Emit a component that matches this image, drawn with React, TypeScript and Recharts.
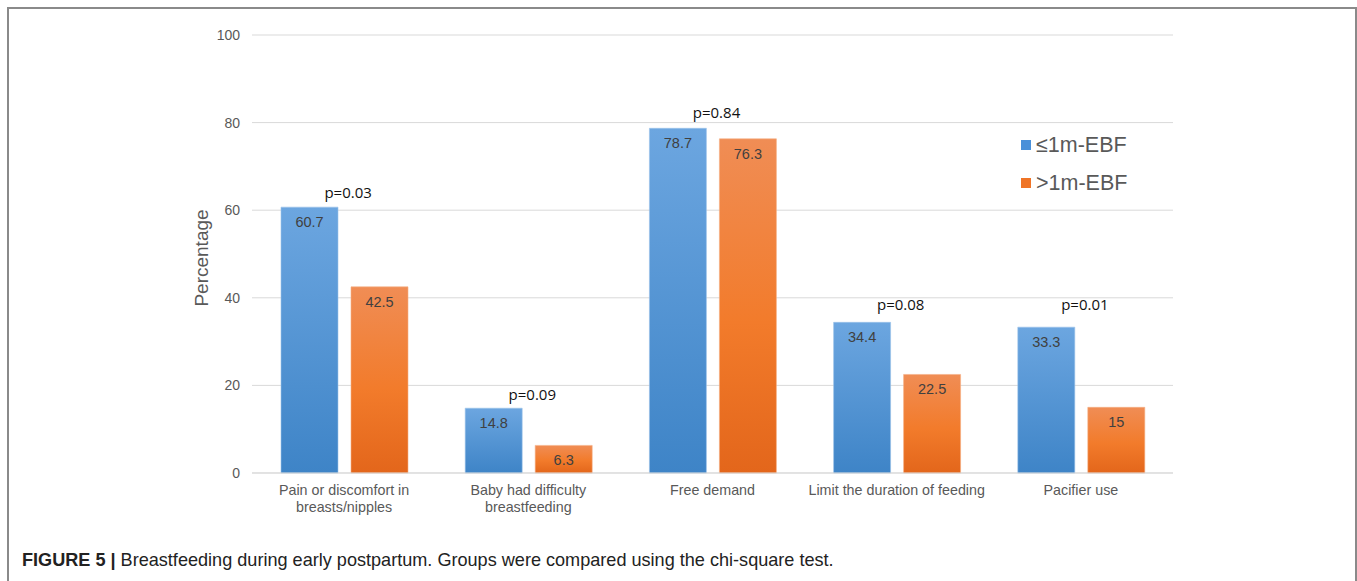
import React from 'react';
import {
  ComposedChart,
  Bar,
  Line,
  XAxis,
  YAxis,
  CartesianGrid,
  LabelList,
} from 'recharts';

// categories (line breaks as in the figure)
const categories = [
  'Pain or discomfort in\nbreasts/nipples',
  'Baby had difficulty\nbreastfeeding',
  'Free demand',
  'Limit the duration of feeding',
  'Pacifier use',
];

const earlyEBF = [60.7, 14.8, 78.7, 34.4, 33.3]; // ≤1m-EBF
const lateEBF = [42.5, 6.3, 76.3, 22.5, 15]; // >1m-EBF
const pValues = ['p=0.03', 'p=0.09', 'p=0.84', 'p=0.08', 'p=0.01'];
// height (in %) at which each p-value label sits
const pHeights = [63.9, 17.8, 82.2, 38.4, 38.4];
const yTicks = [0, 20, 40, 60, 80, 100];

const data = categories.map((name, i) => ({
  name,
  early: earlyEBF[i],
  late: lateEBF[i],
  pPos: pHeights[i],
  p: pValues[i],
}));

const FONT = '"Liberation Sans", Arial, sans-serif';
const GREY = '#595959';

const CategoryTick = (props: any) => {
  const { x, y, payload } = props;
  const lines = String(payload.value).split('\n');
  return (
    <text x={x} y={y} textAnchor="middle" fill={GREY} fontSize={14.3} fontFamily={FONT}>
      {lines.map((ln, i) => (
        <tspan key={i} x={x} dy={i === 0 ? 14 : 17}>
          {ln}
        </tspan>
      ))}
    </text>
  );
};

const PLabel = (props: any) => {
  const { x, y, value } = props;
  return (
    <text x={x + 4} y={y} dy={5} textAnchor="middle" fill="#111" fontSize={15} fontFamily={'"Open Sans", sans-serif'}>
      {value}
    </text>
  );
};

const ValueLabel = (props: any) => {
  const { x, y, width, value } = props;
  return (
    <text x={x + width / 2} y={y + 20} textAnchor="middle" fill="#404040" fontSize={14.5} fontFamily={FONT}>
      {value}
    </text>
  );
};

const legendItems = [
  { label: '≤1m-EBF', color: '#4a90d9' },
  { label: '>1m-EBF', color: '#ef7426' },
];

const LegendBox = () => (
  <div style={{ position: 'absolute', left: 1021, top: 126, fontFamily: FONT }}>
    {legendItems.map((it) => (
      <div key={it.label} style={{ display: 'flex', alignItems: 'center', height: 38 }}>
        <span style={{ width: 10, height: 10, background: it.color, marginRight: 5, display: 'inline-block' }} />
        <span style={{ fontSize: 21.5, color: GREY }}>{it.label}</span>
      </div>
    ))}
  </div>
);

export default function App() {
  return (
    <div style={{ position: 'absolute', left: 0, top: 0, width: 1357, height: 581, background: '#fff', overflow: 'hidden' }}>
      <div
        style={{
          position: 'absolute',
          left: 7,
          top: 7,
          width: 1346,
          height: 600,
          borderLeft: '2px solid #8a8a8a',
          borderTop: '2px solid #8a8a8a',
          borderRight: '2px solid #8a8a8a',
        }}
      />
      <div style={{ position: 'absolute', left: 0, top: 0 }}>
        <ComposedChart
          width={1357}
          height={540}
          data={data}
          margin={{ top: 35, right: 184, bottom: 17, left: 192 }}
          barSize={57}
          barGap={13}
        >
          <defs>
            <linearGradient id="gBlue" x1="0" y1="0" x2="0" y2="1">
              <stop offset="0%" stopColor="#6ca6e0" />
              <stop offset="100%" stopColor="#3e84c7" />
            </linearGradient>
            <linearGradient id="gOrange" x1="0" y1="0" x2="0" y2="1">
              <stop offset="0%" stopColor="#f08d55" />
              <stop offset="55%" stopColor="#f27b2b" />
              <stop offset="100%" stopColor="#e3661b" />
            </linearGradient>
          </defs>
          <CartesianGrid vertical={false} stroke="#d9d9d9" />
          <XAxis
            dataKey="name"
            height={50}
            tick={<CategoryTick />}
            tickLine={false}
            axisLine={{ stroke: '#d9d9d9' }}
            interval={0}
          />
          <YAxis
            width={60}
            domain={[0, 100]}
            ticks={yTicks}
            tickLine={false}
            axisLine={false}
            tickSize={6}
            tickMargin={6}
            tick={{ fill: GREY, fontSize: 14, fontFamily: FONT }}
            label={{
              content: (p: any) => {
                const vb = p.viewBox;
                const cx = vb.x + 16;
                const cy = vb.y + vb.height / 2 + 4;
                return (
                  <text
                    x={cx}
                    y={cy}
                    transform={`rotate(-90 ${cx} ${cy})`}
                    textAnchor="middle"
                    fill={GREY}
                    fontSize={19}
                    fontFamily={FONT}
                  >
                    Percentage
                  </text>
                );
              },
            }}
          />
          <Bar dataKey="early" name="≤1m-EBF" fill="url(#gBlue)" stroke="#9cc2ea" strokeWidth={0.6} isAnimationActive={false}>
            <LabelList dataKey="early" content={<ValueLabel />} />
          </Bar>
          <Bar dataKey="late" name=">1m-EBF" fill="url(#gOrange)" stroke="#f5ae85" strokeWidth={0.6} isAnimationActive={false}>
            <LabelList dataKey="late" content={<ValueLabel />} />
          </Bar>
          <Line
            dataKey="pPos"
            stroke="none"
            dot={false}
            activeDot={false}
            legendType="none"
            isAnimationActive={false}
          >
            <LabelList dataKey="p" content={<PLabel />} />
          </Line>
        </ComposedChart>
      </div>
      <LegendBox />
      <div
        style={{
          position: 'absolute',
          left: 22,
          top: 550,
          fontFamily: FONT,
          fontSize: 18.1,
          color: '#222',
          whiteSpace: 'nowrap',
        }}
      >
        <b>FIGURE 5 |</b> Breastfeeding during early postpartum. Groups were compared using the chi-square test.
      </div>
    </div>
  );
}
